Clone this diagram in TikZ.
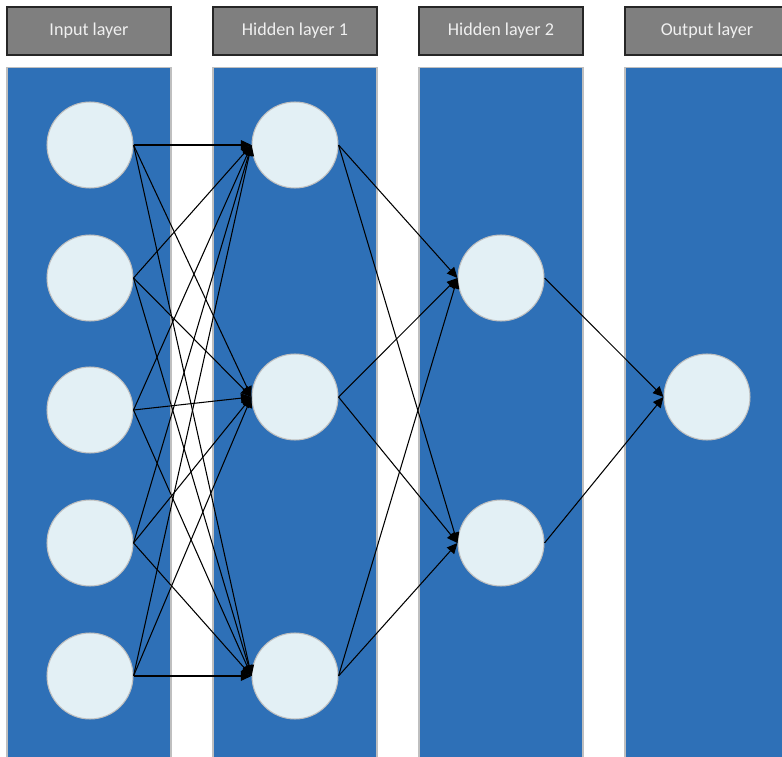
\documentclass[tikz,border=0pt]{standalone}
\usepackage{fontspec}
\setmainfont{Carlito}
\usetikzlibrary{arrows.meta,positioning}
\definecolor{colblue}{HTML}{2E70B7}
\definecolor{headgray}{HTML}{7F7F7F}
\definecolor{neuron}{HTML}{E3F0F5}

\begin{document}
\begin{tikzpicture}[x=0.02cm,y=-0.02cm,>={Triangle[length=6pt,width=5.5pt]},
  head/.style={draw=black!85,line width=0.6pt,fill=headgray,text=white!94!black,minimum width=3.28cm,minimum height=0.96cm,inner sep=0pt,font=\fontsize{10.3}{12}\selectfont},
  column/.style={draw=black!25,line width=0.6pt,fill=colblue,minimum width=3.28cm,minimum height=13.84cm,inner sep=0pt},
  neuron/.style={circle,draw=black!25,line width=0.6pt,fill=neuron,minimum size=1.72cm,inner sep=0pt},
  link/.style={->,line width=0.6pt}]
\useasboundingbox (0,0) rectangle (782,757);
% layer headers and columns
\node[head] (tin) at (89,31) {Input layer};
\node[head] (th1) at (295,31) {Hidden layer 1};
\node[head] (th2) at (501,31) {Hidden layer 2};
\node[head] (tout) at (707,31) {Output layer};
\node[column] (cin) at (89,413) {};
\node[column] (ch1) at (295,413) {};
\node[column] (ch2) at (501,413) {};
\node[column] (cout) at (707,413) {};
% neurons
\node[neuron] (i1) at (90,145) {};
\node[neuron] (i2) at (90,278) {};
\node[neuron] (i3) at (90,410) {};
\node[neuron] (i4) at (90,543) {};
\node[neuron] (i5) at (90,676) {};
\node[neuron] (h1) at (295,145) {};
\node[neuron] (h2) at (295,397) {};
\node[neuron] (h3) at (295,676) {};
\node[neuron] (g1) at (501,278) {};
\node[neuron] (g2) at (501,543) {};
\node[neuron] (o) at (707,397) {};
% connections
\foreach \i in {1,...,5} {\foreach \j in {1,2,3} {\draw[link] (i\i.east)--(h\j.west);}}
\foreach \j in {1,2,3} {\draw[link] (h\j.east)--(g1.west);\draw[link] (h\j.east)--(g2.west);}
\draw[link] (g1.east)--(o.west);\draw[link] (g2.east)--(o.west);
\end{tikzpicture}
\end{document}
